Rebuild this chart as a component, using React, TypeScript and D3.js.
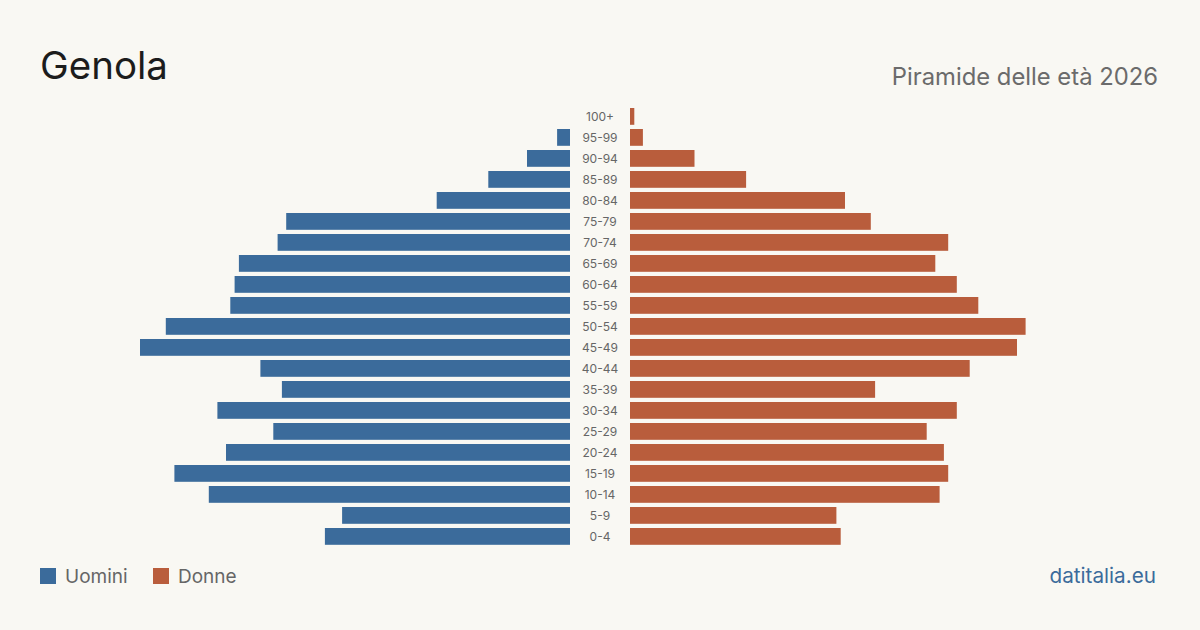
import React from "react";
import * as d3 from "d3";

const ageGroups = ["100+","95-99","90-94","85-89","80-84","75-79","70-74","65-69","60-64","55-59","50-54","45-49","40-44","35-39","30-34","25-29","20-24","15-19","10-14","5-9","0-4"];
const males = [0,3,10,19,31,66,68,77,78,79,94,100,72,67,82,69,80,92,84,53,57];
const females = [1,3,15,27,50,56,74,71,76,81,92,90,79,57,76,69,73,74,72,48,49];

const W = 1200, H = 630;
const BLUE = "#3b6b9b";
const ORANGE = "#b95d3c";
const FONT = "Inter, 'Noto Sans', sans-serif";

export default function App() {
  const y = d3.scaleBand<string>().domain(ageGroups).range([108, 108 + 21 * 21 - 4.2]).paddingInner(0.2);
  const xl = d3.scaleLinear().domain([0, 100]).range([570, 140]);
  const xr = d3.scaleLinear().domain([0, 100]).range([630, 1060]);
  const bh = y.bandwidth();
  const rowTop = (g: string) => y(g) as number;
  return (
    <svg width={W} height={H} style={{ position: "absolute", left: 0, top: 0, display: "block" }} fontFamily={FONT}>
      <rect width={W} height={H} fill="#f9f8f3" />
      <text x={40} y={79} fontSize={38.5} fill="#1c1c1c">Genola</text>
      <text x={1158} y={85} fontSize={23.8} fill="#6b6b6b" textAnchor="end">Piramide delle età 2026</text>
      {ageGroups.map((g, i) => (
        <g key={g}>
          {males[i] > 0 && (
            <rect x={xl(males[i])} y={rowTop(g)} width={xl(0) - xl(males[i])} height={bh} fill={BLUE} />
          )}
          {females[i] > 0 && (
            <rect x={xr(0)} y={rowTop(g)} width={xr(females[i]) - xr(0)} height={bh} fill={ORANGE} />
          )}
          <text x={600} y={rowTop(g) + bh / 2 + 4.3} fontSize={12} fill="#666" textAnchor="middle">{g}</text>
        </g>
      ))}
      <rect x={40} y={568} width={16} height={16} fill={BLUE} />
      <text x={65} y={583} fontSize={19} fill="#666">Uomini</text>
      <rect x={153} y={568} width={16} height={16} fill={ORANGE} />
      <text x={178} y={583} fontSize={19} fill="#666">Donne</text>
      <text x={1156} y={583} fontSize={20.7} fill={BLUE} textAnchor="end">datitalia.eu</text>
    </svg>
  );
}
